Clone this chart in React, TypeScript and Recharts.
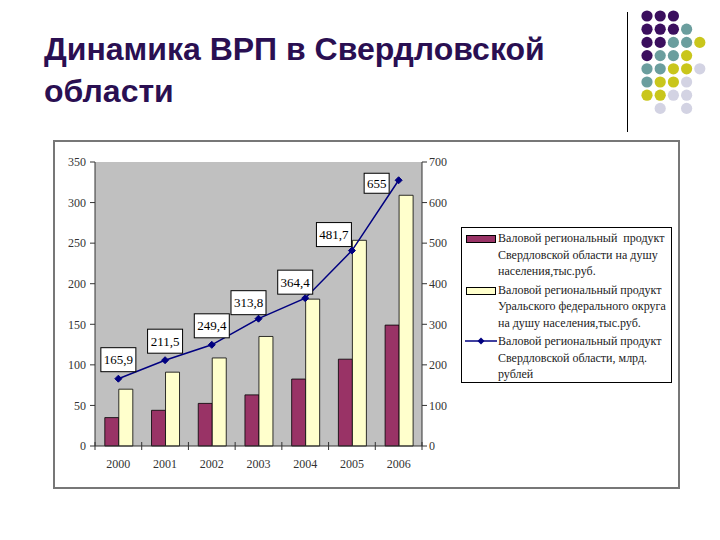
import React from "react";
import {
  ComposedChart,
  Bar,
  Line,
  XAxis,
  YAxis,
  LabelList,
} from "recharts";

// Data
const years = ["2000", "2001", "2002", "2003", "2004", "2005", "2006"];
const grpSverdlPerCapita = [35, 44, 52.5, 63, 82.5, 107, 149];
const grpUralPerCapita = [70, 91, 108.5, 135, 181, 253.5, 309];
const grpSverdlTotal = [165.9, 211.5, 249.4, 313.8, 364.4, 481.7, 655];
const leftTicks = [0, 50, 100, 150, 200, 250, 300, 350];
const rightTicks = [0, 100, 200, 300, 400, 500, 600, 700];

const legendItems = [
  {
    kind: "bar",
    color: "#993366",
    lines: ["Валовой региональный  продукт", "Свердловской области на душу", "населения,тыс.руб."],
  },
  {
    kind: "bar",
    color: "#ffffcc",
    lines: ["Валовой региональный продукт", "Уральского федерального округа", "на душу населения,тыс.руб."],
  },
  {
    kind: "line",
    color: "#000080",
    lines: ["Валовой региональный продукт", "Свердловской области, млрд.", "рублей"],
  },
];

// decorative dot grid, top right of the slide
const P = "#3b0f5e";
const T = "#6b9e9e";
const Y = "#c9c61c";
const L = "#d3d3e3";
const dotRows = [
  [P, P, P],
  [P, P, P, T],
  [P, P, T, T, Y],
  [P, T, T, Y],
  [T, T, Y, Y, L],
  [T, Y, Y, L],
  [Y, Y, L, L],
  ["", L, "", L],
];

const data = years.map((year, i) => ({
  year,
  sverdl: grpSverdlPerCapita[i],
  ural: grpUralPerCapita[i],
  total: grpSverdlTotal[i],
}));

const serif = "'Liberation Serif', 'Times New Roman', serif";
const CHART_W = 623;
const CHART_H = 345;
const PLOT_L = 40;
const PLOT_R = 367;
const PLOT_T = 20;
const PLOT_B = 304;
const band = (PLOT_R - PLOT_L) / years.length;

function XTick(props: any) {
  const { x, payload, index } = props;
  const axisY = PLOT_B;
  return (
    <g>
      {index === 0 && (
        <line x1={x - band / 2} x2={x - band / 2} y1={axisY - 4} y2={axisY + 4} stroke="#333" />
      )}
      <line x1={x + band / 2} x2={x + band / 2} y1={axisY - 4} y2={axisY + 4} stroke="#333" />
      <text x={x} y={axisY + 22} textAnchor="middle" fontFamily={serif} fontSize={12} fill="#333">
        {payload.value}
      </text>
    </g>
  );
}

function Diamond(props: any) {
  const { cx, cy } = props;
  if (cx == null || cy == null) return null;
  const s = 3.5;
  return (
    <polygon
      points={`${cx},${cy - s} ${cx + s},${cy} ${cx},${cy + s} ${cx - s},${cy}`}
      fill="#000080"
      stroke="#000080"
    />
  );
}

function ValueBox(props: any) {
  const { x, y, value, index } = props;
  const text = String(value).replace(".", ",");
  const w = text.length * 5 + 10;
  const h = text.length > 3 ? 24 : 20;
  let cx = x;
  let cy = y - 19;
  if (index === years.length - 1) {
    cx = x - 22;
    cy = y + 3;
  } else if (index >= 3) {
    cx = x - (index === 5 ? 18 : 10);
    cy = y - 16;
  }
  return (
    <g>
      <rect x={cx - w / 2} y={cy - h / 2} width={w} height={h} fill="#fff" stroke="#000" />
      <text x={cx} y={cy + 4.5} textAnchor="middle" fontFamily={serif} fontSize={13} fill="#000">
        {text}
      </text>
    </g>
  );
}

function LegendBox() {
  return (
    <div
      style={{
        position: "absolute",
        left: 406,
        top: 85,
        width: 209,
        height: 152,
        border: "1px solid #000",
        background: "#fff",
        paddingTop: 2,
        fontFamily: serif,
        fontSize: 12,
        color: "#222",
      }}
    >
      {legendItems.map((item, i) => (
        <div key={i} style={{ display: "flex", marginTop: i === 0 ? 0 : 2 }}>
          <div style={{ width: 36, position: "relative", flexShrink: 0 }}>
            {item.kind === "bar" ? (
              <div
                style={{
                  position: "absolute",
                  left: 4,
                  top: 5,
                  width: 28,
                  height: 6,
                  background: item.color,
                  border: "1px solid #000",
                }}
              />
            ) : (
              <svg style={{ position: "absolute", left: 3, top: 3 }} width={32} height={10}>
                <line x1={0} x2={32} y1={5} y2={5} stroke={item.color} strokeWidth={1.5} />
                <polygon points="16,1.5 19.5,5 16,8.5 12.5,5" fill={item.color} />
              </svg>
            )}
          </div>
          <div style={{ lineHeight: "16.5px", whiteSpace: "pre" }}>
            {item.lines.map((ln, j) => (
              <div key={j}>{ln}</div>
            ))}
          </div>
        </div>
      ))}
    </div>
  );
}

export default function App() {
  return (
    <div style={{ position: "absolute", left: 0, top: 0, width: 720, height: 540, background: "#fff" }}>
      <div
        style={{
          position: "absolute",
          left: 44,
          top: 28,
          fontFamily: "'Liberation Sans', Arial, sans-serif",
          fontWeight: "bold",
          fontSize: 32,
          lineHeight: "42px",
          color: "#2a0f52",
        }}
      >
        <div>Динамика ВРП в Свердловской</div>
        <div>области</div>
      </div>

      <div style={{ position: "absolute", left: 627, top: 12, width: 1, height: 120, background: "#000" }} />
      <svg style={{ position: "absolute", left: 0, top: 0 }} width={720} height={140}>
        {dotRows.map((row, r) =>
          row.map((c, k) =>
            c ? <circle key={`${r}-${k}`} cx={647 + k * 13.2} cy={16 + r * 13.2} r={5.6} fill={c} /> : null
          )
        )}
      </svg>

      <div
        style={{
          position: "absolute",
          left: 53,
          top: 140,
          width: CHART_W,
          height: CHART_H,
          border: "2px solid #777",
        }}
      >
        <ComposedChart
          width={CHART_W}
          height={CHART_H}
          data={data}
          margin={{ top: PLOT_T, right: CHART_W - PLOT_R - 40, bottom: CHART_H - PLOT_B - 30, left: 0 }}
          barCategoryGap="21%"
          barGap={0}
        >
          <rect x={PLOT_L} y={PLOT_T} width={PLOT_R - PLOT_L} height={PLOT_B - PLOT_T} fill="#c0c0c0" />
          <XAxis
            dataKey="year"
            tickLine={false}
            tick={<XTick />}
            stroke="#333"
            height={30}
          />
          <YAxis
            yAxisId="left"
            domain={[0, 350]}
            ticks={leftTicks}
            width={40}
            tickSize={5}
            tickMargin={4}
            stroke="#333"
            tick={{ fontFamily: serif, fontSize: 12, fill: "#333" }}
            interval={0}
          />
          <YAxis
            yAxisId="right"
            orientation="right"
            domain={[0, 700]}
            ticks={rightTicks}
            width={40}
            tickSize={5}
            tickMargin={2}
            stroke="#333"
            tick={{ fontFamily: serif, fontSize: 12, fill: "#333" }}
            interval={0}
          />
          <Bar
            yAxisId="left"
            dataKey="sverdl"
            fill="#993366"
            stroke="#000"
            strokeWidth={0.8}
            isAnimationActive={false}
          />
          <Bar
            yAxisId="left"
            dataKey="ural"
            fill="#ffffcc"
            stroke="#000"
            strokeWidth={0.8}
            isAnimationActive={false}
          />
          <Line
            yAxisId="right"
            dataKey="total"
            stroke="#000080"
            strokeWidth={1.5}
            dot={<Diamond />}
            activeDot={false}
            isAnimationActive={false}
          >
            <LabelList dataKey="total" content={<ValueBox />} />
          </Line>
        </ComposedChart>
        <LegendBox />
      </div>
    </div>
  );
}
